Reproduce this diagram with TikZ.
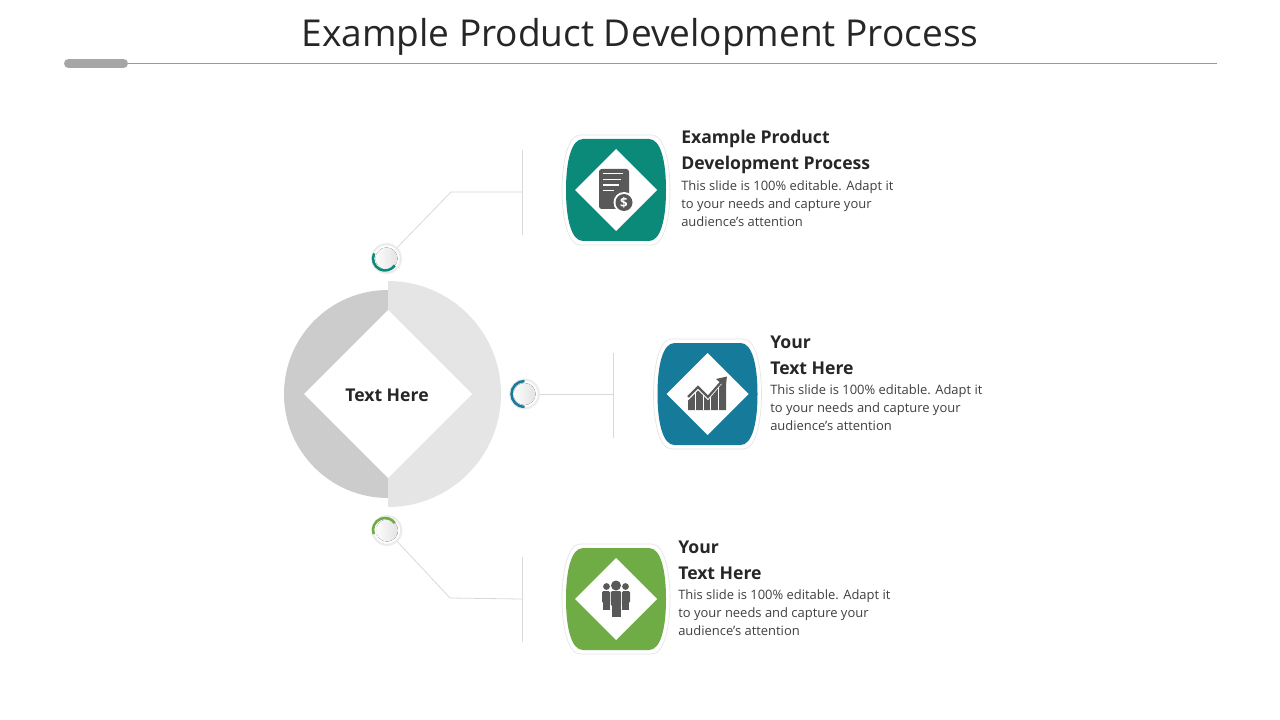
\documentclass[tikz,border=0pt]{standalone}
\usepackage{fontspec}
\setmainfont{Open Sans}
\usetikzlibrary{calc}
\definecolor{cteal}{HTML}{0B8A7A}
\definecolor{cblue}{HTML}{167A9A}
\definecolor{cgreen}{HTML}{6FAC46}
\definecolor{icon}{HTML}{595959}
\definecolor{wire}{HTML}{D9D9D9}
\tikzset{
  x=0.75pt,y=-0.75pt,
  titletext/.style={inner sep=0,text=black!85,font=\fontsize{27.8}{32}\selectfont},
  headtext/.style={inner sep=0,anchor=base west,text=black!85,font=\fontsize{13.2}{19.5}\selectfont\bfseries,align=left},
  bodytext/.style={inner sep=0,anchor=base west,text=black!75,font=\fontsize{9.72}{13.5}\selectfont,align=left},
  centretext/.style={inner sep=0,font=\fontsize{13.2}{16}\selectfont\bfseries,text=black!85},
  connector/.style={draw=wire,line width=0.6pt},
  dotnode/.style={circle,draw=black!8,line width=1.6pt,fill=white,inner sep=0,minimum size=21.5pt},
  arcmark/.style={line width=1.9pt},
  pics/badge/.style={code={
    \draw[draw=black!10,line width=0.5pt,fill=white] (-36,-55) -- (36,-55) .. controls (48,-55) and (54,-28) .. (54,0) .. controls (54,28) and (48,55) .. (36,55) -- (-36,55) .. controls (-48,55) and (-54,28) .. (-54,0) .. controls (-54,-28) and (-48,-55) .. (-36,-55) -- cycle;
    \fill[#1] (-33,-51) -- (33,-51) .. controls (45,-51) and (50,-28) .. (50,0) .. controls (50,28) and (45,51) .. (33,51) -- (-33,51) .. controls (-45,51) and (-50,28) .. (-50,0) .. controls (-50,-28) and (-45,-51) .. (-33,-51) -- cycle;
    \fill[white] (-41,0) -- (0,-41) -- (41,0) -- (0,41) -- cycle;
  }}
}
\begin{document}
\begin{tikzpicture}
\useasboundingbox (0,0) rectangle (1280,720);
\fill[white] (0,0) rectangle (1280,720);
% title
\node[titletext] (title) at (640,36.5) {Example Product Development Process};
\coordinate (ruleA) at (128,63);
\coordinate (ruleB) at (1217,63);
\draw[draw=black!40,line width=0.7pt] (ruleA) -- (ruleB);
\fill[black!35] (68.5,59) rectangle (123.5,68);
\fill[black!35] (68.5,63.5) circle[radius=4.5] (123.5,63.5) circle[radius=4.5];
% central disc
\fill[black!20!white] (388,290) arc[start angle=270,end angle=90,radius=104] -- cycle;
\fill[black!10!white] (388,281) arc[start angle=-90,end angle=90,radius=113] -- cycle;
\fill[white] (304,394) -- (388,310) -- (472,394) -- (388,478) -- cycle;
\node[centretext] (centre) at (387,395.5) {Text Here};
% connectors
\node[dotnode] (d1) at (386.5,258.5) {};
\node[dotnode] (d2) at (524.5,394) {};
\node[dotnode] (d3) at (387,530.5) {};
\coordinate (k1) at (451,192);
\coordinate (e1) at (522,192);
\coordinate (t1) at (522,150);
\coordinate (b1) at (522,235);
\coordinate (e2) at (613.5,394);
\coordinate (t2) at (613.5,353);
\coordinate (b2) at (613.5,438);
\coordinate (k3) at (450,598);
\coordinate (e3) at (522,599);
\coordinate (t3) at (522,557);
\coordinate (b3) at (522,642);
\draw[connector] (d1) -- (k1) -- (e1);
\draw[connector] (t1) -- (b1);
\draw[connector] (d2) -- (e2);
\draw[connector] (t2) -- (b2);
\draw[connector] (d3) -- (k3) -- (e3);
\draw[connector] (t3) -- (b3);
% small dots
\fill[left color=black!1,right color=black!11] (386.5,258.5) circle[radius=11];
\fill[left color=black!1,right color=black!11] (524.5,394) circle[radius=11];
\fill[left color=black!1,right color=black!11] (387,530.5) circle[radius=11];
\draw[arcmark,cteal] (385,258.5) ++(-155:12) arc[start angle=-155,end angle=-325,radius=12];
\draw[arcmark,cblue] (524.5,394) ++(-90:13) arc[start angle=-90,end angle=-270,radius=13];
\draw[arcmark,cgreen] (385,530) ++(-200:12) arc[start angle=-200,end angle=-35,radius=12];
% badges
\pic at (616,190) {badge=cteal};
\pic at (707.5,394) {badge=cblue};
\pic at (616,599) {badge=cgreen};
% document icon
\fill[icon,rounded corners=2pt] (599,169) rectangle (629,209);
\foreach \y/\xe in {173.5/623,179.5/621,185/619,190.7/614}
  \draw[white,line width=1pt] (603,\y) -- (\xe,\y);
\fill[white] (624,202.5) circle[radius=10.5];
\fill[icon] (624,202.5) circle[radius=8.5];
\node[inner sep=0,text=white,font=\fontsize{10}{10}\selectfont\bfseries] (dollar) at (624,202.5) {\$};
% chart icon
\fill[icon] (688,400.5) -- (698,390.5) -- (708,400.5) -- (721,385) -- (726,381) -- (726,410) -- (688,410) -- cycle;
\foreach \x in {695.5,703,710.5,718.5}
  \draw[white,line width=0.6pt] (\x,380) -- (\x,410);
\draw[icon,line width=1.7pt] (688,397) -- (698,387) -- (708,397) -- (722,381);
\fill[icon] (727,376.5) -- (725.5,387) -- (716,379) -- cycle;
% people icon
\fill[icon] (606.5,586.5) circle[radius=3.4] (625.5,586.5) circle[radius=3.4] (616,585.5) circle[radius=5];
\fill[icon,rounded corners=1pt] (602,591) rectangle (610,603);
\fill[icon] (603,602) rectangle (610,610);
\fill[icon,rounded corners=1pt] (622,591) rectangle (630,603);
\fill[icon] (622,602) rectangle (629,610);
\fill[icon,rounded corners=1pt] (610.8,591) rectangle (621.2,606);
\fill[icon] (611.5,605) rectangle (620.5,617);
% texts
\node[headtext] (h1) at (681,170) {Example Product\\Development Process};
\node[bodytext] (p1) at (681,226.5) {This slide is 100\% editable. Adapt it\\to your needs and capture your\\audience's attention};
\node[headtext] (h2) at (770,374) {Your\\Text Here};
\node[bodytext] (p2) at (770,430.5) {This slide is 100\% editable. Adapt it\\to your needs and capture your\\audience's attention};
\node[headtext] (h3) at (678,579) {Your\\Text Here};
\node[bodytext] (p3) at (678,635.5) {This slide is 100\% editable. Adapt it\\to your needs and capture your\\audience's attention};
\end{tikzpicture}
\end{document}
